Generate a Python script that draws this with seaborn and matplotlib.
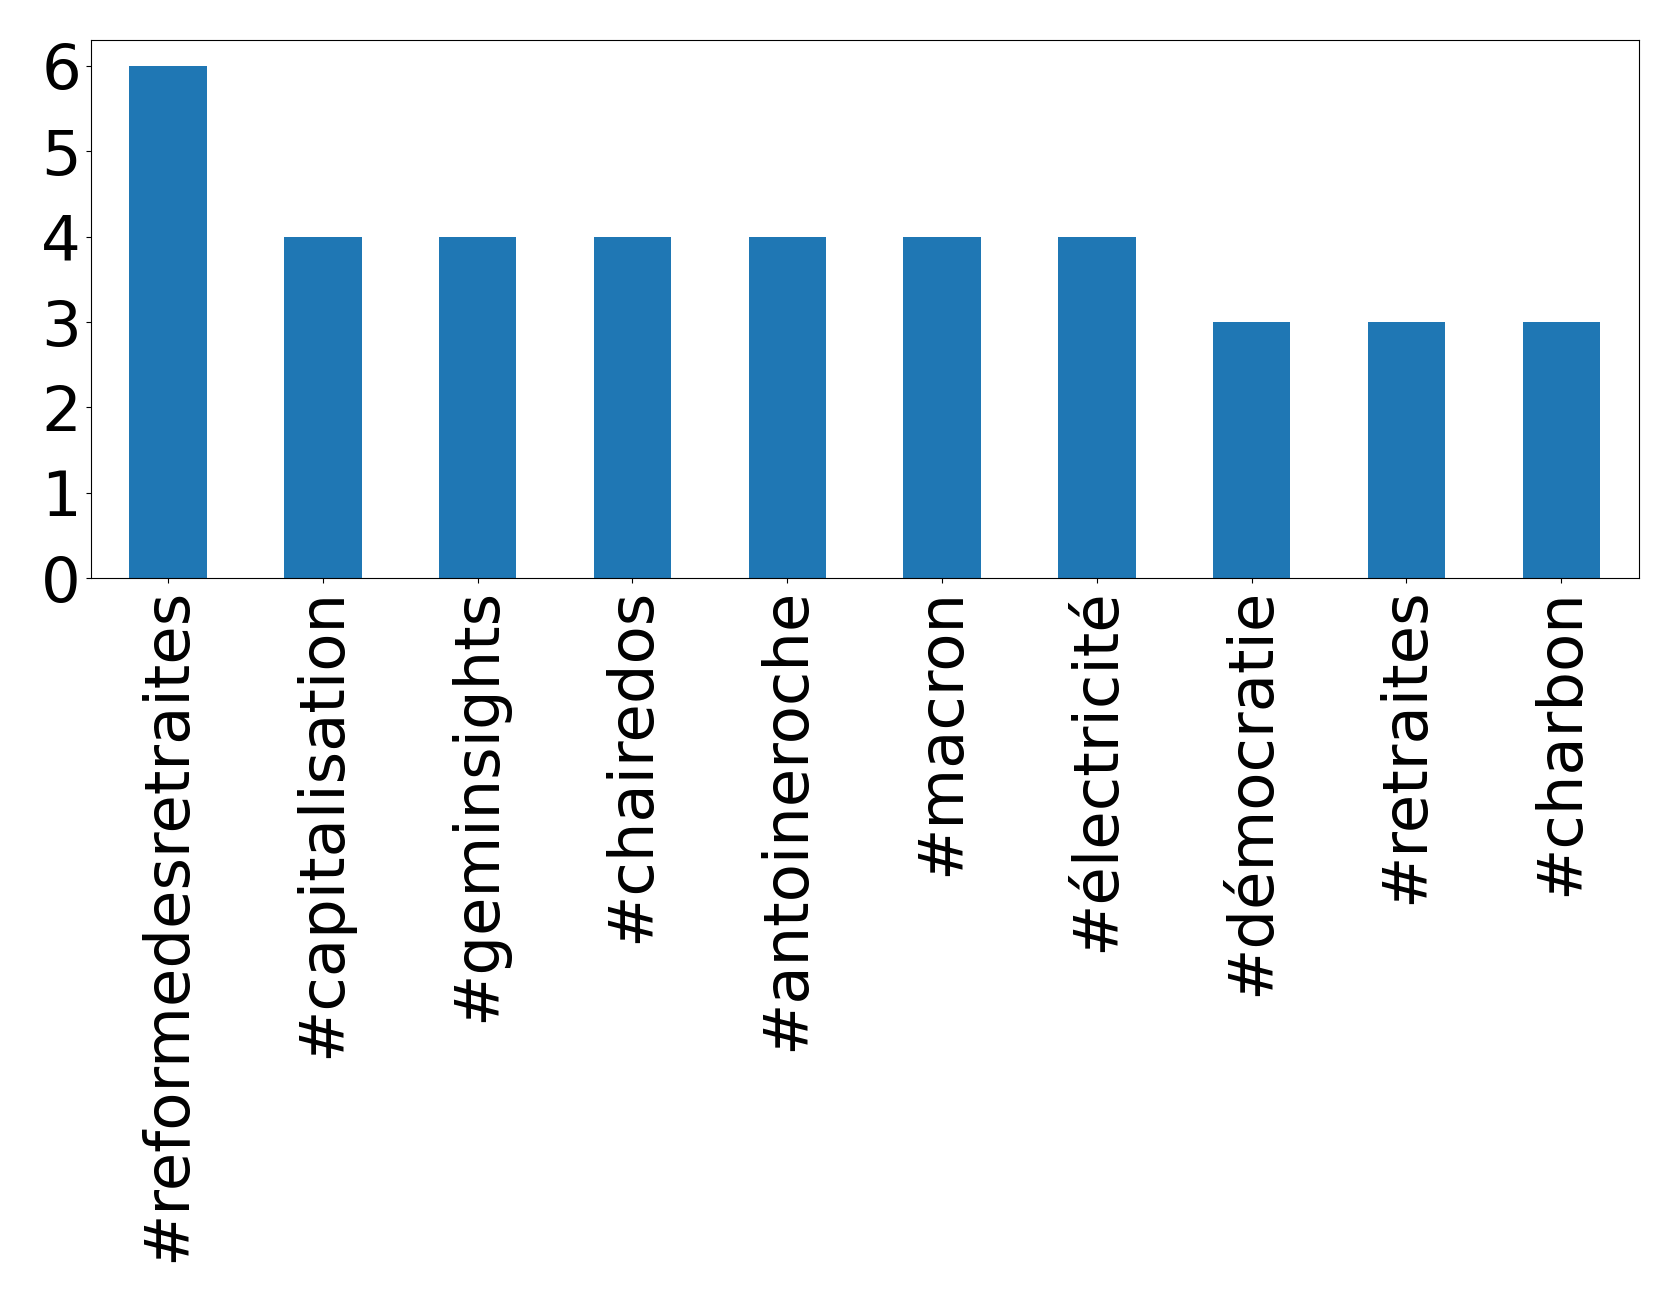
import matplotlib.pyplot as plt
import pandas as pd
import seaborn as sns

HASHTAGS = [
    "#reformedesretraites",
    "#capitalisation",
    "#geminsights",
    "#chairedos",
    "#antoineroche",
    "#macron",
    "#électricité",
    "#démocratie",
    "#retraites",
    "#charbon",
]
COUNTS = [6, 4, 4, 4, 4, 4, 4, 3, 3, 3]
Y_TICKS = [0, 1, 2, 3, 4, 5, 6]

df = pd.DataFrame({"hashtag": HASHTAGS, "count": COUNTS})

fig, ax = plt.subplots(figsize=(16.79, 13.02), dpi=100)
sns.barplot(data=df, x="hashtag", y="count", color="#1f77b4", width=0.5,
            saturation=1, ax=ax)

ax.set_xlim(-0.5, len(HASHTAGS) - 0.5)
ax.set_ylim(0, 6.3)
ax.set_yticks(Y_TICKS)
ax.set_xlabel("")
ax.set_ylabel("")
ax.tick_params(axis="both", labelsize=45)
plt.setp(ax.get_xticklabels(), rotation=90)

fig.subplots_adjust(left=0.054, right=0.976, top=0.969, bottom=0.556)
plt.savefig("out.png", dpi=100)
